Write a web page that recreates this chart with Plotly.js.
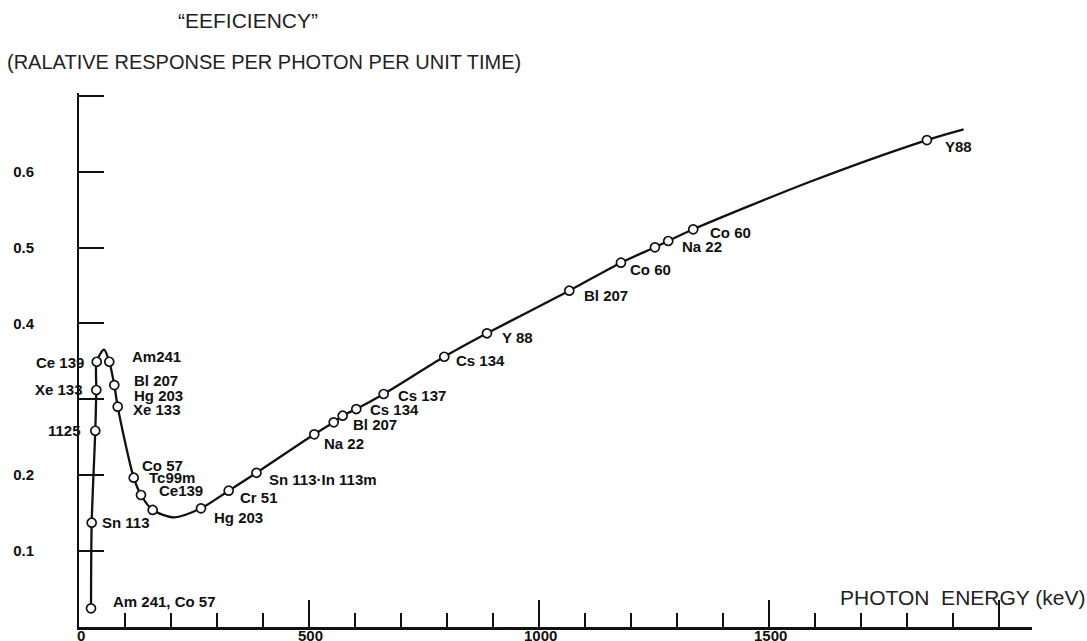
<!DOCTYPE html>
<html>
<head>
<meta charset="utf-8">
<script src="https://cdn.plot.ly/plotly-3.0.1.min.js"></script>
<style>
html,body{margin:0;padding:0;background:#fff;}
#chart{width:1087px;height:641px;}
</style>
</head>
<body>
<div id="chart"></div>
<script>
// ---- data (photon energy in keV, relative efficiency) ----
const pointEnergy = [26.1, 27.6, 35.4, 37.6, 38.5, 65.8, 76.7, 84.1, 118.9, 134.7, 160.1,
  265.1, 325.3, 385.7, 511.3, 553.5, 573.0, 602.6, 662.1, 793.8, 886.6, 1065.4,
  1177.7, 1251.6, 1280.5, 1334.8, 1842.7];
const pointEfficiency = [0.0246, 0.1374, 0.2586, 0.3123, 0.3495, 0.3495, 0.3188, 0.2903,
  0.1967, 0.1739, 0.1542, 0.1564, 0.1796, 0.2032, 0.2539, 0.2697, 0.2784, 0.2872,
  0.3070, 0.3561, 0.3870, 0.4431, 0.4800, 0.5003, 0.5086, 0.5240, 0.6416];
const pointLabels = ["Am 241, Co 57", "Sn 113", "1125", "Xe 133", "Ce 139", "Am241",
  "Bl 207|Hg 203", "Xe 133", "Co 57", "Tc99m", "Ce139", "Hg 203", "Cr 51",
  "Sn 113\u00b7In 113m", "Na 22", "Bl 207", "", "Cs 134", "Cs 137", "Cs 134", "Y 88",
  "Bl 207", "Co 60", "", "Na 22", "Co 60", "Y88"];

// extra points where the drawn curve bends between markers (peak, minimum, far end)
const bendEnergy = [54.3, 207.1, 1590.0, 1922.4];
const bendEfficiency = [0.3656, 0.1445, 0.5870, 0.6557];

const yTickValues = [0.1, 0.2, 0.3, 0.4, 0.5, 0.6, 0.7];
const yTickText = ["0.1", "0.2", "", "0.4", "0.5", "0.6", ""];
const xTickValues = [0, 500, 1000, 1500, 2000];
const xTickText = ["0", "500", "1000", "1500", ""];
const xMinorTicks = [100, 200, 300, 400, 600, 700, 800, 900, 1100, 1200, 1300, 1400,
  1600, 1700, 1800, 1900];

// ---- build the curve from markers + bend points, sorted along the drawn path ----
const curve = pointEnergy.map((e, i) => [e, pointEfficiency[i]])
  .concat(bendEnergy.map((e, i) => [e, bendEfficiency[i]]));
curve.sort((a, b) => a[0] - b[0]);
const curveX = curve.map(p => p[0]);
const curveY = curve.map(p => p[1]);

// ---- label placement (pixel offsets from each marker) ----
const labelStyle = [
  ["left", 20.5, 6.6], ["left", 9.3, 0], ["right", -13.5, 0], ["right", -12.8, 0],
  ["right", -12.2, -1], ["left", 21.7, 5], ["left", 18.4, 4.3], ["left", 14.3, -2.6],
  ["left", 7.3, 12.7], ["left", 6.7, 17.7], ["left", 5, 19.3], ["left", 11.7, -9],
  ["left", 10.3, -7.3], ["left", 11.2, -7.2], ["left", 8.4, -9], ["left", 18.3, -1.7],
  ["left", 0, 0], ["left", 12.7, 0], ["left", 13.3, -1], ["left", 10.7, -3.3],
  ["left", 14, -4], ["left", 13.4, -5], ["left", 8, -6.3], ["left", 0, 0],
  ["left", 12.7, -5.7], ["left", 15.7, -3], ["left", 17, -6.7]
];

const labelFont = {family: "Liberation Sans, Arial, sans-serif", size: 15, color: "#111", weight: 700};
const annotations = [];
pointLabels.forEach((lab, i) => {
  if (!lab) return;
  const lines = lab.split("|");
  const st = labelStyle[i];
  lines.forEach((ln, k) => {
    annotations.push({
      x: pointEnergy[i], y: pointEfficiency[i], xref: "x", yref: "y",
      text: ln, showarrow: false, xanchor: st[0], yanchor: "middle",
      xshift: st[1], yshift: st[2] - k * 14.3, font: labelFont,
      borderpad: 0
    });
  });
});

const tickFont = {family: "Liberation Sans, Arial, sans-serif", size: 15, color: "#111", weight: 700};

// x-axis tick labels, placed just under the axis line (they run off the bottom edge as in the scan)
xTickValues.forEach((v, i) => {
  if (!xTickText[i]) return;
  annotations.push({
    x: v, xref: "x", y: 0, yref: "paper", yanchor: "top", yshift: 1,
    xshift: i === 0 ? 2 : 1,
    text: xTickText[i], showarrow: false, font: tickFont, borderpad: 0
  });
});

const titleFont = {family: "Liberation Sans, Arial, sans-serif", size: 20, color: "#222"};
annotations.push({
  xref: "paper", yref: "paper", x: (176 - 79) / 953, y: (627 - 20) / 534,
  xanchor: "left", yanchor: "middle", showarrow: false,
  text: "\u201cEEFICIENCY\u201d", font: Object.assign({}, titleFont, {size: 21})
});
annotations.push({
  xref: "paper", yref: "paper", x: (5 - 79) / 953, y: (627 - 62) / 534,
  xanchor: "left", yanchor: "middle", showarrow: false,
  text: "(RALATIVE RESPONSE PER PHOTON PER UNIT TIME)", font: titleFont
});
annotations.push({
  xref: "paper", yref: "paper", x: (1087 - 79) / 953, y: (627 - 597) / 534,
  xanchor: "right", yanchor: "middle", showarrow: false,
  text: "PHOTON\u00a0\u00a0ENERGY (keV)", font: Object.assign({}, titleFont, {size: 21})
});

const traces = [
  {
    x: curveX, y: curveY, type: "scatter", mode: "lines",
    line: {color: "#111", width: 2.3, shape: "spline", smoothing: 0.8},
    hoverinfo: "skip", showlegend: false
  },
  {
    x: pointEnergy, y: pointEfficiency, type: "scatter", mode: "markers",
    marker: {symbol: "circle", size: 9, color: "#fff", line: {color: "#111", width: 1.7}},
    text: pointLabels, showlegend: false, cliponaxis: false
  }
];

const layout = {
  width: 1087, height: 641,
  margin: {l: 79, r: 55, t: 93, b: 14},
  paper_bgcolor: "#fff", plot_bgcolor: "#fff",
  showlegend: false,
  xaxis: {
    range: [0, 2071], showgrid: false, zeroline: false,
    showline: true, linecolor: "#111", linewidth: 2.5,
    ticks: "inside", ticklen: 27, tickwidth: 2, tickcolor: "#111",
    tickmode: "array", tickvals: xTickValues, ticktext: xTickText,
    showticklabels: false,
    minor: {tickmode: "array", tickvals: xMinorTicks, ticks: "inside", ticklen: 14, tickwidth: 2, tickcolor: "#111", showgrid: false}
  },
  yaxis: {
    range: [0, 0.7036], showgrid: false, zeroline: false,
    showline: true, linecolor: "#111", linewidth: 2,
    ticks: "inside", ticklen: 25, tickwidth: 2, tickcolor: "#111",
    tickmode: "array", tickvals: yTickValues, ticktext: yTickText,
    tickfont: tickFont, ticklabelstandoff: 40
  },
  annotations: annotations
};

Plotly.newPlot("chart", traces, layout, {displayModeBar: false, staticPlot: true});
</script>
</body>
</html>
